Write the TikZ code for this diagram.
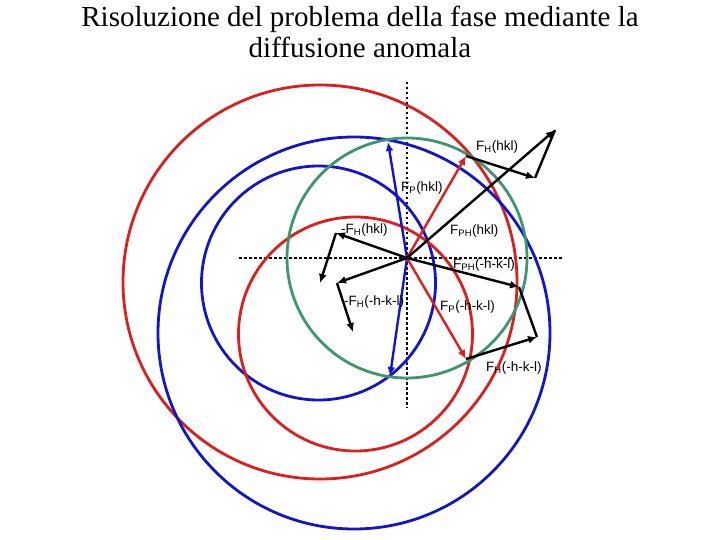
\documentclass[tikz,border=0pt]{standalone}
\usepackage{fontspec}
\setmainfont{Liberation Serif}
\newfontfamily\lab{Liberation Sans}
\usetikzlibrary{arrows.meta}
\begin{document}
\begin{tikzpicture}[x=1pt,y=-1pt,
  circ/.style={line width=2.8pt},
  vec/.style={line width=2.4pt,-{Latex[length=9pt,width=8pt]}},
  seg/.style={line width=2.4pt},
  lbl/.style={font=\lab\fontsize{13.5}{14}\selectfont,inner sep=0pt},
  ax/.style={line width=1.5pt,dash pattern=on 2.5pt off 2.5pt}]
\useasboundingbox (0,0) rectangle (720,540);
\definecolor{cred}{RGB}{220,30,30}
\definecolor{cblue}{RGB}{20,20,200}
\definecolor{cgreen}{RGB}{60,150,110}
\node[font=\fontsize{29}{31}\selectfont,align=center,inner sep=0pt] (title) at (360,32) {Risoluzione del problema della fase mediante la\\diffusione anomala};
\coordinate (O) at (407,258);
\coordinate (hl) at (239,258); \coordinate (hr) at (562,258);
\coordinate (vt) at (407,82); \coordinate (vb) at (407,408);
\draw[ax] (hl) -- (hr);
\draw[ax] (vt) -- (vb);
\draw[circ,cred] (320,282) circle (197);
\draw[circ,cblue] (354,333) circle (196);
\draw[circ,cblue] (318.5,283) circle (117);
\draw[circ,cred] (355.5,334) circle (117);
\draw[circ,cgreen] (407,258) circle (120);
\coordinate (FP) at (466,156); \coordinate (FPH) at (555,130); \coordinate (K1) at (535,178);
\coordinate (mFH) at (336,233); \coordinate (mFH2) at (320,283);
\coordinate (mFHm) at (337,283); \coordinate (mFHm2) at (353,332);
\coordinate (FPm) at (466,359); \coordinate (FPHm) at (519,287); \coordinate (K2) at (537,337);
\coordinate (B1) at (388,142); \coordinate (B2) at (390,376);
\draw[vec,cblue] (O) -- (B1);
\draw[vec,cblue] (O) -- (B2);
\draw[vec,cred] (O) -- (FP);
\draw[vec,cred] (O) -- (FPm);
\draw[vec] (O) -- (FPH);
\draw[vec] (FP) -- (K1);
\draw[seg] (K1) -- (FPH);
\draw[vec] (O) -- (mFH);
\draw[vec] (mFH) -- (mFH2);
\draw[vec] (O) -- (mFHm);
\draw[vec] (mFHm) -- (mFHm2);
\draw[vec] (O) -- (FPHm);
\draw[seg] (FPHm) -- (K2);
\draw[vec] (FPm) -- (K2);
\node[lbl,anchor=west] (l1) at (476,147) {F\textsubscript{H}(hkl)};
\node[lbl,anchor=west] (l2) at (401,188) {F\textsubscript{P}(hkl)};
\node[lbl,anchor=west] (l3) at (341,230) {-F\textsubscript{H}(hkl)};
\node[lbl,anchor=west] (l4) at (450,231) {F\textsubscript{PH}(hkl)};
\node[lbl,anchor=west] (l5) at (453,265) {F\textsubscript{PH}(-h-k-l)};
\node[lbl,anchor=west] (l6) at (344,302) {-F\textsubscript{H}(-h-k-l)};
\node[lbl,anchor=west] (l7) at (440,307) {F\textsubscript{P}(-h-k-l)};
\node[lbl,anchor=west] (l8) at (486,368) {F\textsubscript{H}(-h-k-l)};
\end{tikzpicture}
\end{document}
